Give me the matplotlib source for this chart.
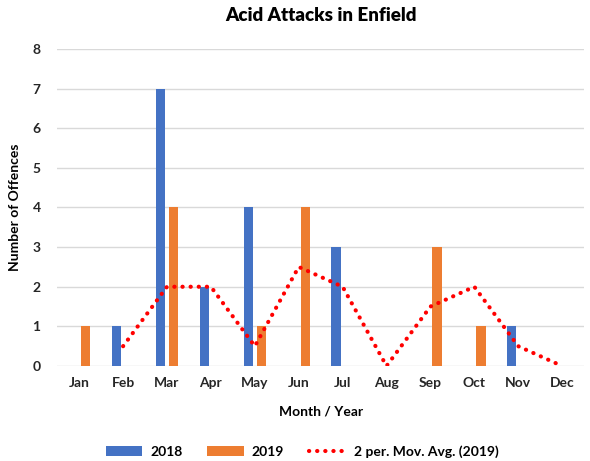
import matplotlib.pyplot as plt
import numpy as np

months = ['Jan', 'Feb', 'Mar', 'Apr', 'May', 'Jun', 'Jul', 'Aug', 'Sep', 'Oct', 'Nov', 'Dec']
offences_2018 = [0, 1, 7, 2, 4, 0, 3, 0, 0, 0, 1, 0]
offences_2019 = [1, 0, 4, 0, 1, 4, 0, 0, 3, 1, 0, 0]
# 2 period moving average of 2019, first month has no value
mov_avg_2019 = [None, 0.5, 2, 2, 0.5, 2.5, 2, 0, 1.5, 2, 0.5, 0]

plt.rcParams['font.family'] = ['Lato', 'DejaVu Sans']
plt.rcParams['font.weight'] = 'bold'
plt.rcParams['axes.labelweight'] = 'bold'

fig = plt.figure(figsize=(5.9, 4.61), dpi=100)
ax = fig.add_axes([0.097, 0.206, 0.893, 0.688])

x = np.arange(len(months))
w = 0.21
b1 = ax.bar(x - 0.15, offences_2018, width=w, color='#4472C4', label='2018', zorder=3)
b2 = ax.bar(x + 0.15, offences_2019, width=w, color='#ED7D31', label='2019', zorder=3)

ma_x = [i for i, v in enumerate(mov_avg_2019) if v is not None]
ma_y = [v for v in mov_avg_2019 if v is not None]
ln, = ax.plot(ma_x, ma_y, color='#FF0000', linestyle=(0, (0.05, 1.9)), linewidth=3,
              dash_capstyle='round', label='2 per. Mov. Avg. (2019)', zorder=4)

ax.set_ylim(0, 8)
ax.set_xlim(-0.5, 11.5)
ax.set_yticks(range(0, 9))
ax.set_xticks(x)
ax.set_xticklabels(months, fontweight='bold')
ax.set_yticklabels([str(v) for v in range(0, 9)], fontweight='bold')
ax.tick_params(length=0, labelsize=10, colors='#262626', pad=8)
ax.tick_params(axis='y', pad=12)
ax.grid(axis='y', color='#D9D9D9', linewidth=1, zorder=0)
for s in ax.spines.values():
    s.set_visible(False)

ax.set_title('Acid Attacks in Enfield', fontsize=13.5, fontweight='heavy', pad=20)
ax.set_xlabel('Month / Year', fontsize=10, fontweight='bold', labelpad=12)
ax.set_ylabel('Number of Offences', fontsize=10, fontweight='bold', labelpad=8)

fig.legend(handles=[b1, b2, ln], loc='center', bbox_to_anchor=(0.512, 0.02), ncol=3,
           frameon=False, handlelength=2.6, columnspacing=1.8, handletextpad=0.6,
           prop={'weight': 'bold', 'size': 10})

fig.savefig('out.png', dpi=100)
